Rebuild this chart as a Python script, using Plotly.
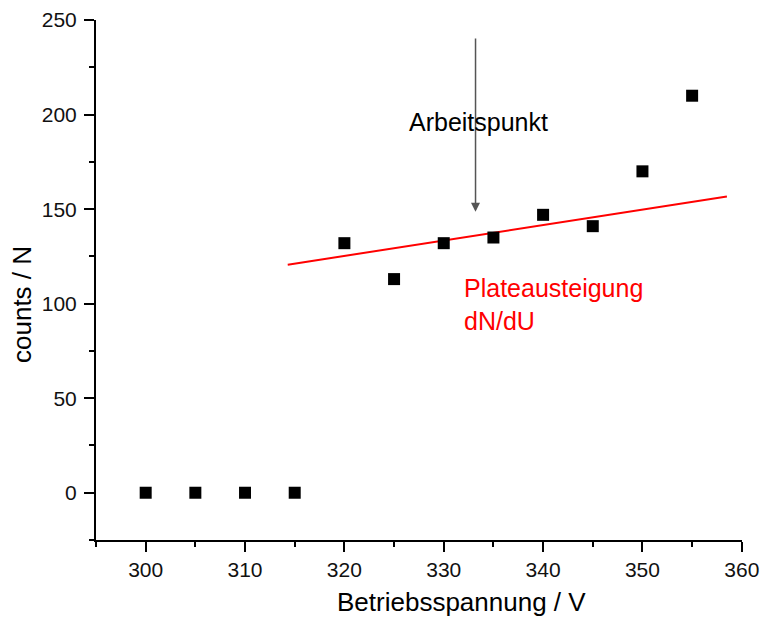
import plotly.graph_objects as go

# Data
voltage = [300, 305, 310, 315, 320, 325, 330, 335, 340, 345, 350, 355]
counts = [0, 0, 0, 0, 132, 113, 132, 135, 147, 141, 170, 210]

fit_x = [314.3, 358.5]
fit_y = [120.6, 156.7]

x_ticks = [300, 310, 320, 330, 340, 350, 360]
y_ticks = [0, 50, 100, 150, 200, 250]

arrow_x = 333.2
arrow_tail_y = 241
arrow_head_y = 148.6

FONT = "Liberation Sans, Arial, sans-serif"

W, H = 761, 618
ML, MT, PW, PH = 96, 20, 646, 520

fig = go.Figure()
fig.add_trace(go.Scatter(
    x=fit_x, y=fit_y, mode="lines",
    line=dict(color="#ff0000", width=2), showlegend=False,
))
fig.add_trace(go.Scatter(
    x=voltage, y=counts, mode="markers",
    marker=dict(symbol="square", size=12, color="black"), showlegend=False,
))

fig.add_annotation(
    x=arrow_x, y=arrow_head_y, ax=arrow_x, ay=arrow_tail_y,
    xref="x", yref="y", axref="x", ayref="y",
    showarrow=True, arrowhead=2, arrowsize=1.2, arrowwidth=1.5,
    arrowcolor="#555555", text="",
)
fig.add_annotation(
    x=326.3, y=196, xref="x", yref="y", text="Arbeitspunkt",
    showarrow=False, xanchor="left", yanchor="middle",
    font=dict(family=FONT, size=25, color="black"),
)
fig.add_annotation(
    x=331.8, y=99.5, xref="x", yref="y", text="Plateausteigung<br>dN/dU",
    showarrow=False, xanchor="left", yanchor="middle", align="left",
    font=dict(family=FONT, size=25, color="#ff0000"),
)
# Axis titles (positions in screen pixels converted to paper coords)
fig.add_annotation(
    x=(461 - 96) / PW, y=-(602 - 540) / PH, xref="paper", yref="paper",
    text="Betriebsspannung / V", showarrow=False,
    xanchor="center", yanchor="middle",
    font=dict(family=FONT, size=26, color="black"),
)
fig.add_annotation(
    x=-(96 - 22) / PW, y=(540 - 305) / PH, xref="paper", yref="paper",
    text="counts / N", showarrow=False, textangle=-90,
    xanchor="center", yanchor="middle",
    font=dict(family=FONT, size=26, color="black"),
)

axis_common = dict(
    showline=True, linecolor="black", linewidth=2,
    ticks="outside", ticklen=10, tickwidth=2, tickcolor="black",
    showgrid=False, zeroline=False, mirror=False, automargin=False,
    ticklabeloverflow="allow",
    tickfont=dict(family=FONT, size=21, color="#111111"),
)

fig.update_layout(
    width=W, height=H,
    margin=dict(l=ML, r=W - ML - PW, t=MT, b=H - MT - PH),
    paper_bgcolor="white", plot_bgcolor="white",
    font=dict(family=FONT),
    xaxis=dict(
        range=[295, 360.02], tickvals=x_ticks,
        minor=dict(dtick=5, tick0=295, ticklen=5, tickwidth=2, tickcolor="black", ticks="outside", showgrid=False),
        **axis_common,
    ),
    yaxis=dict(
        range=[-25, 250.05], tickvals=y_ticks, ticklabelstandoff=3,
        minor=dict(dtick=25, tick0=-25, ticklen=5, tickwidth=2, tickcolor="black", ticks="outside", showgrid=False),
        **axis_common,
    ),
)

fig.write_html(
    "out.html",
    config={"displayModeBar": False},
    post_script="document.body.style.margin='0';document.body.style.overflow='hidden';",
)
